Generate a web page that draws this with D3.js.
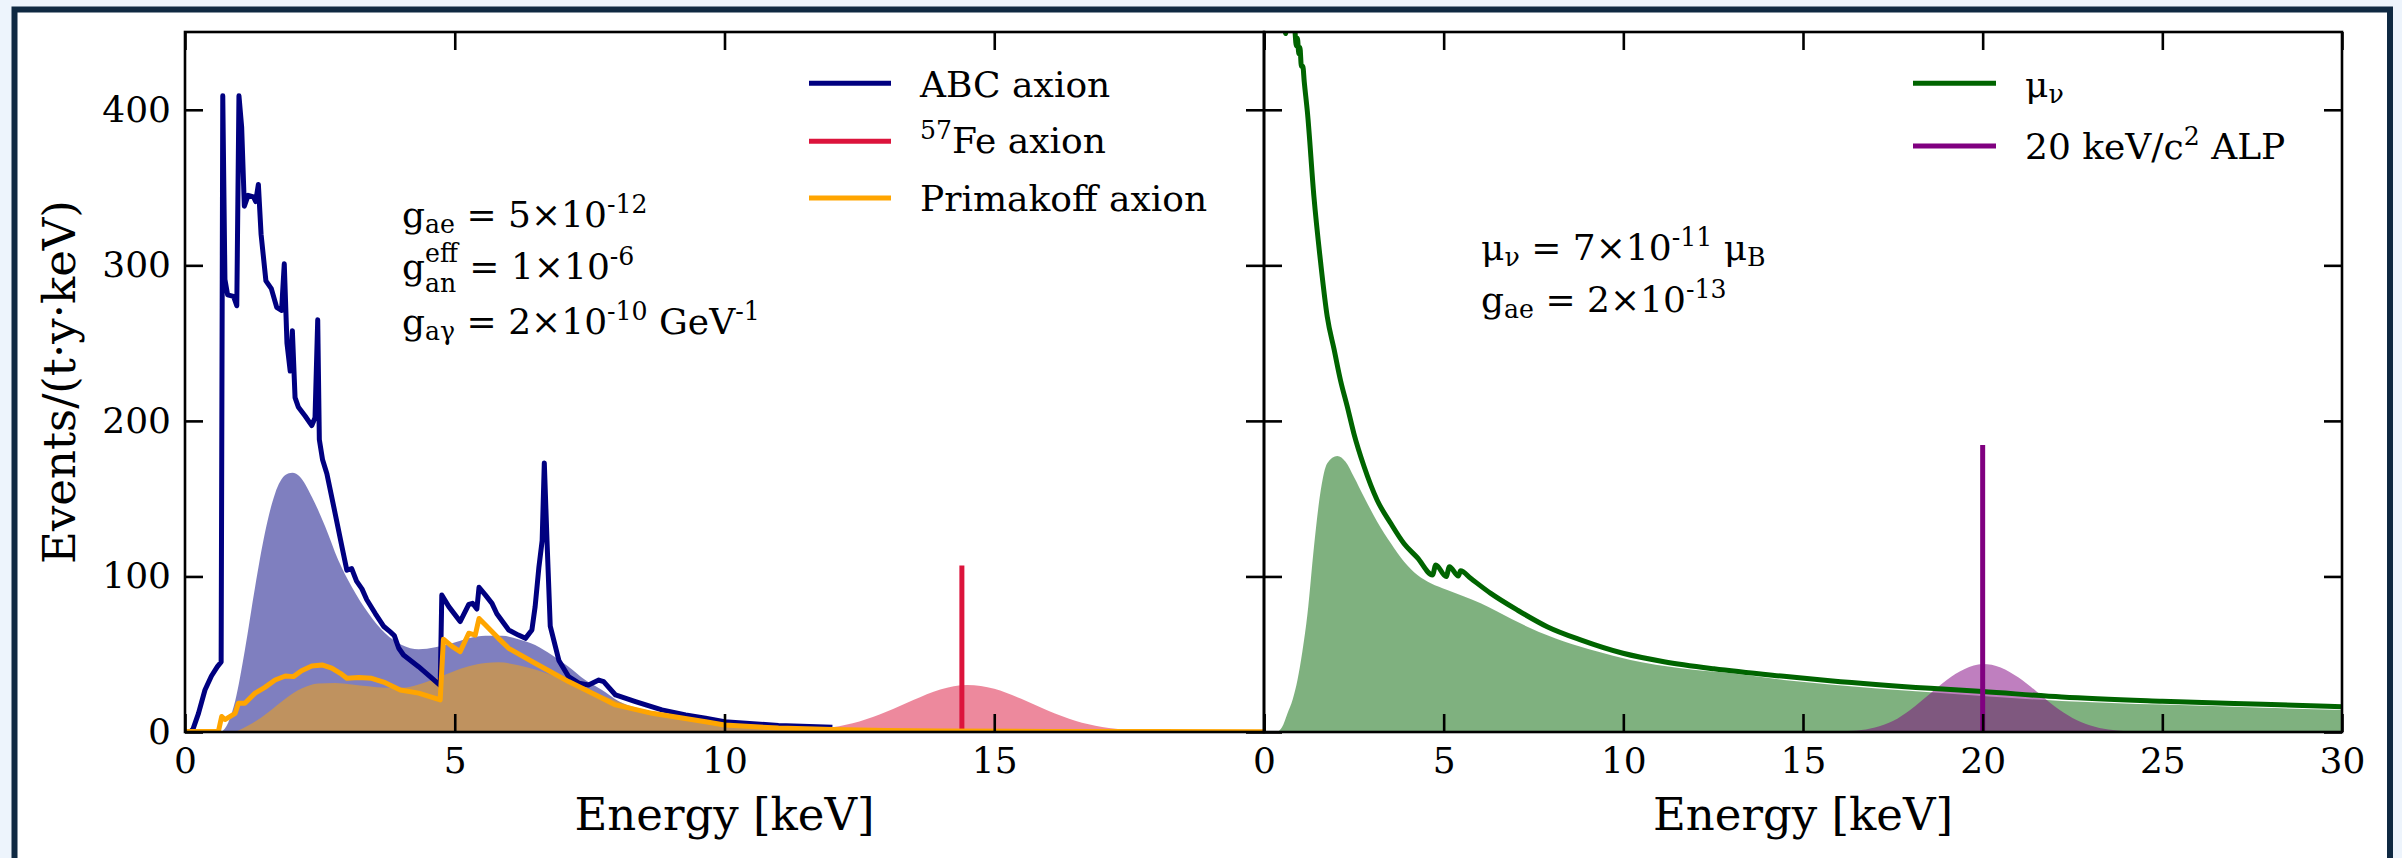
<!DOCTYPE html>
<html>
<head>
<meta charset="utf-8">
<script src="https://cdn.jsdelivr.net/npm/d3@7"></script>
<style>
  html, body { margin: 0; padding: 0; background: #edf4fc; }
  svg { display: block; }
  text { font-family: "DejaVu Serif", serif; fill: #000; white-space: pre; }
</style>
</head>
<body>
<svg id="chart" width="2402" height="858"></svg>
<script>
// ---------- Left panel: axion signals (keV, events / (t·y·keV)) ----------
const abcLineE = [0.10,0.15,0.25,0.37,0.49,0.60,0.67,0.70,0.74,0.79,0.90,0.96,1.00,1.05,1.10,1.17,1.27,1.31,1.36,1.41,1.50,1.60,1.70,1.79,1.84,1.89,1.95,1.99,2.04,2.10,2.23,2.35,2.41,2.46,2.49,2.55,2.63,2.78,2.91,3.00,3.09,3.18,3.28,3.37,3.53,3.68,3.80,3.88,3.96,4.05,4.33,4.73,4.76,4.89,5.10,5.26,5.33,5.41,5.45,5.57,5.69,5.78,6.00,6.18,6.31,6.43,6.49,6.56,6.62,6.66,6.71,6.77,6.93,7.11,7.30,7.48,7.67,7.76,7.98,8.35,8.84,9.28,9.65,10.0,11.0,12.0];
const abcLineV = [0,2,12,27,36,42,45,409,291,281,280,274,409,389,338,345,344,341,352,320,290,285,273,271,301,250,232,258,215,209,203,197,202,265,188,175,166,141,119,104,105,97,92,85,76,68,64.5,62,54,49.5,42,30,88,80.6,71,82,82.7,79,93,88,82.7,76,65.6,62.3,60.2,65.6,80.6,106,123,173,123,68,46,35.6,31.4,30.2,33.4,32.4,23.8,19.5,14.2,11,8.8,6.6,4.2,3.0];

const abcSmearE = [0.68,0.80,0.93,1.11,1.30,1.48,1.67,1.86,1.99,2.13,2.35,2.60,2.84,3.09,3.40,3.71,4.02,4.33,4.64,4.95,5.26,5.57,5.88,6.18,6.49,6.80,7.11,7.42,7.73,8.04,8.66,9.65,10.0,11.0,12.0];
const abcSmearV = [0,6,20,52.7,93.4,127.7,153.4,165.2,166.7,164.1,151.3,132,110.6,93.4,76.3,63.5,56,53.2,54.5,57.1,60.3,61.8,61.8,59.7,56,49.5,42,33.4,27,19.8,13.2,7.8,5.8,3.0,1.5];

const primLineE = [0,0.62,0.68,0.74,0.93,0.99,1.11,1.30,1.48,1.67,1.86,2.01,2.16,2.35,2.54,2.72,2.88,3.00,3.22,3.46,3.71,3.99,4.33,4.73,4.79,4.95,5.10,5.26,5.38,5.45,5.57,5.81,6.00,6.49,7.11,7.54,7.98,8.66,9.65,10.0,11.0,12.0,13.0,14.0,16.0,18.0,20.0];
const primLineV = [0.3,0.5,10,8,12,18.5,18.5,25,28.7,33.4,36,35.6,39.4,42.4,43.1,41,37.7,34.5,35.1,34.5,31.7,27,25,20.6,59.6,55,51.7,63.5,62.3,73,68.8,60.2,53.8,44.2,32.4,25,17.4,12,6.6,4.5,2.5,1.6,1.0,0.7,0.4,0.3,0.2];

const primSmearE = [0.93,1.24,1.55,1.86,2.16,2.47,2.78,3.09,3.40,3.71,4.02,4.33,4.64,4.95,5.26,5.57,5.81,6.18,6.49,6.80,7.11,7.42,7.73,8.04,8.66,9.65,10.0,11.0,12.0,13.0,14.0,16.0,18.0,20.0];
const primSmearV = [0,5.4,12.9,21.4,27.9,31.1,31.5,30.6,29.4,28.5,28.5,30.6,34.3,38.6,42.2,44.4,44.8,42.9,40.1,36.5,32.2,28,23.7,19.5,13,7.3,5.5,2.8,1.5,0.9,0.6,0.4,0.3,0.2];

const feLineE = [14.4, 14.4];
const feLineV = [0, 107];
const feSmearE = [11.0,11.5,12.0,12.5,13.0,13.5,14.0,14.5,15.0,15.5,16.0,16.5,17.0,17.5,18.0,18.5,19.0];
const feSmearV = [0.3,1.1,3.0,6.8,13,20.6,27.4,30.2,27.8,21.3,13.6,7.2,3.2,1.2,0.35,0.1,0];

// ---------- Right panel: neutrino magnetic moment and 20 keV ALP ----------
const muLineE = [0.55,0.60,0.64,0.84,0.87,0.90,0.93,0.97,1.00,1.04,1.08,1.12,1.21,1.39,1.58,1.76,1.95,2.13,2.32,2.50,2.78,3.15,3.53,3.90,4.27,4.69,4.78,5.07,5.16,5.41,5.47,5.75,6.31,7.05,7.88,8.81,9.99,11.13,12.52,14.47,15.75,18.54,20.0,22.2,25.0,27.8,30.0];
const muLineV = [470,449,456,462,448,441,446,436,440,428,428,418,398,344,301,267,246,226,209,192,171,149,134,121,112,101,107.4,99.9,106.3,100.3,103.7,98.8,89.1,78.4,67.7,59.2,50.6,45.2,40.6,35.8,33.0,28.1,26.0,22.5,19.8,17.8,16.3];

const muSmearE = [0.37,0.50,0.65,0.80,0.93,1.07,1.21,1.39,1.58,1.76,2.04,2.27,2.50,2.78,3.15,3.53,3.90,4.27,4.64,5.10,5.57,6.03,6.49,7.42,8.35,9.28,10.2,11.6,13.0,14.47,15.75,18.54,22.2,25.0,27.8,30.0];
const muSmearV = [0,3,11.8,21,33.2,52,76,119,155.5,172.7,177.4,173.7,164.1,151.3,135.2,121.3,109.5,100.9,95.6,91.3,87.1,82.8,77.4,66.7,58.1,51.7,46.3,41,37.7,33.4,30.6,25.5,20.0,17.6,15.6,14.2];

const alpLineE = [20, 20];
const alpLineV = [0, 184.5];
const alpSmearE = [15.5,16.0,16.5,17.0,17.5,18.0,18.5,19.0,19.5,20.0,20.5,21.0,21.5,22.0,22.5,23.0,23.5,24.0,24.5];
const alpSmearV = [0,0.3,0.9,2.9,7,14.5,24,33.5,40.5,43.7,41.5,35,26,16.5,9,4.2,1.6,0.5,0.1];

// ---------- Axis ticks ----------
const yTicks = [0, 100, 200, 300, 400];
const xTicksLeft = [0, 5, 10, 15, 20];
const xTicksRight = [0, 5, 10, 15, 20, 25, 30];

// ---------- Colours ----------
const C = {
  abc: "#000080", fe: "#dc143c", prim: "#ffa500",
  mu: "#006400", alp: "#800080"
};

const W = 2402, H = 858;
const svg = d3.select("#chart");

// card background and frame
svg.append("rect").attr("width", W).attr("height", H).attr("fill", "#edf4fc");
svg.append("rect")
  .attr("x", 14.5).attr("y", 9.5)
  .attr("width", 2390 - 14.5).attr("height", 900)
  .attr("fill", "#ffffff").attr("stroke", "#0f2942").attr("stroke-width", 6);

const plotTop = 32, plotBottom = 732;
const y = d3.scaleLinear().domain([0, 450]).range([plotBottom, plotTop]);
const xL = d3.scaleLinear().domain([0, 20]).range([185, 1264]);
const xR = d3.scaleLinear().domain([0, 30]).range([1264, 2342]);

const zip = (a, b) => a.map((v, i) => [v, b[i]]);
const FS = 36;
const LW = 5;

const defs = svg.append("defs");
function clipFor(id, x) {
  defs.append("clipPath").attr("id", id)
    .append("rect")
    .attr("x", x.range()[0]).attr("y", plotTop)
    .attr("width", x.range()[1] - x.range()[0]).attr("height", plotBottom - plotTop);
}
clipFor("clipL", xL);
clipFor("clipR", xR);

function drawArea(g, x, E, V, color) {
  const area = d3.area()
    .x(d => x(d[0])).y0(y(0)).y1(d => y(d[1]))
    .curve(d3.curveMonotoneX);
  g.append("path").datum(zip(E, V))
    .attr("d", area).attr("fill", color).attr("fill-opacity", 0.5);
}
function drawLine(g, x, E, V, color, curve) {
  const line = d3.line().x(d => x(d[0])).y(d => y(d[1])).curve(curve || d3.curveLinear);
  g.append("path").datum(zip(E, V))
    .attr("d", line).attr("fill", "none")
    .attr("stroke", color).attr("stroke-width", LW)
    .attr("stroke-linejoin", "round");
}

// ---------- left panel marks ----------
const gL = svg.append("g").attr("clip-path", "url(#clipL)");
drawArea(gL, xL, abcSmearE, abcSmearV, C.abc);
drawArea(gL, xL, primSmearE, primSmearV, C.prim);
drawArea(gL, xL, feSmearE, feSmearV, C.fe);
drawLine(gL, xL, abcLineE, abcLineV, C.abc);
drawLine(gL, xL, feLineE, feLineV, C.fe);
drawLine(gL, xL, primLineE, primLineV, C.prim);

// ---------- right panel marks ----------
const gR = svg.append("g").attr("clip-path", "url(#clipR)");
drawArea(gR, xR, muSmearE, muSmearV, C.mu);
drawArea(gR, xR, alpSmearE, alpSmearV, C.alp);
drawLine(gR, xR, muLineE, muLineV, C.mu, d3.curveMonotoneX);
drawLine(gR, xR, alpLineE, alpLineV, C.alp);

// ---------- axes (inward ticks on all four sides) ----------
function styleAxis(sel) {
  sel.attr("font-family", '"DejaVu Serif", serif').attr("font-size", FS);
  sel.select(".domain").remove();
  sel.selectAll(".tick line").attr("stroke", "#000").attr("stroke-width", 2.6);
  sel.selectAll(".tick text").attr("fill", "#000");
}
const TL = 18;
function panelAxes(x, xTicks, xFmt, showY) {
  const [x0, x1] = x.range();
  svg.append("g").attr("transform", `translate(0,${plotBottom})`)
    .call(d3.axisBottom(x).tickValues(xTicks).tickFormat(xFmt).tickSize(-TL).tickPadding(15))
    .call(styleAxis);
  svg.append("g").attr("transform", `translate(0,${plotTop})`)
    .call(d3.axisTop(x).tickValues(xTicks).tickFormat("").tickSize(-TL))
    .call(styleAxis);
  svg.append("g").attr("transform", `translate(${x0},0)`)
    .call(d3.axisLeft(y).tickValues(yTicks).tickFormat(showY ? d3.format("d") : "").tickSize(-TL).tickPadding(14))
    .call(styleAxis);
  svg.append("g").attr("transform", `translate(${x1},0)`)
    .call(d3.axisRight(y).tickValues(yTicks).tickFormat("").tickSize(-TL))
    .call(styleAxis);
  svg.append("rect")
    .attr("x", x0).attr("y", plotTop)
    .attr("width", x1 - x0).attr("height", plotBottom - plotTop)
    .attr("fill", "none").attr("stroke", "#000").attr("stroke-width", 2.6);
}
panelAxes(xL, xTicksLeft, d => (d === 20 ? "" : d), true);
panelAxes(xR, xTicksRight, d => d, false);

// axis titles
svg.append("text").attr("x", (xL.range()[0] + xL.range()[1]) / 2).attr("y", 830)
  .attr("text-anchor", "middle").attr("font-size", 45).text("Energy [keV]");
svg.append("text").attr("x", (xR.range()[0] + xR.range()[1]) / 2).attr("y", 830)
  .attr("text-anchor", "middle").attr("font-size", 45).text("Energy [keV]");
svg.append("text")
  .attr("transform", `translate(75,${(plotTop + plotBottom) / 2}) rotate(-90)`)
  .attr("text-anchor", "middle").attr("font-size", 45).text("Events/(t·y·keV)");

// ---------- text with sub/superscripts ----------
function richText(parent, x, yBase, parts, fs) {
  const g = parent.append("g");
  const small = fs * 0.7;
  let cx = x;
  for (const p of parts) {
    if (p.t !== undefined) {
      const t = g.append("text").attr("x", cx).attr("y", yBase)
        .attr("font-size", fs).text(p.t);
      cx += t.node().getComputedTextLength();
    } else {
      const stacked = p.sub !== undefined && p.sup !== undefined;
      let w = 0;
      if (p.sub !== undefined) {
        const t = g.append("text").attr("x", cx).attr("y", yBase + (stacked ? 12.5 : 6))
          .attr("font-size", small).text(p.sub);
        w = Math.max(w, t.node().getComputedTextLength());
      }
      if (p.sup !== undefined) {
        const t = g.append("text").attr("x", cx).attr("y", yBase - (stacked ? 17 : 14))
          .attr("font-size", small).text(p.sup);
        w = Math.max(w, t.node().getComputedTextLength());
      }
      cx += w;
    }
  }
  return g;
}

// coupling annotations
richText(svg, 402, 227, [{t: "g"}, {sub: "ae"}, {t: " = 5×10"}, {sup: "-12"}], FS);
richText(svg, 402, 279, [{t: "g"}, {sub: "an", sup: "eff"}, {t: " = 1×10"}, {sup: "-6"}], FS);
richText(svg, 402, 334, [{t: "g"}, {sub: "aγ"}, {t: " = 2×10"}, {sup: "-10"}, {t: " GeV"}, {sup: "-1"}], FS);

richText(svg, 1481, 260, [{t: "μ"}, {sub: "ν"}, {t: " = 7×10"}, {sup: "-11"}, {t: " μ"}, {sub: "B"}], FS);
richText(svg, 1481, 312, [{t: "g"}, {sub: "ae"}, {t: " = 2×10"}, {sup: "-13"}], FS);

// ---------- legends ----------
const legendLeft = [
  {color: C.abc, parts: [{t: "ABC axion"}], ly: 83.3, ty: 96.7},
  {color: C.fe, parts: [{sup: "57"}, {t: "Fe axion"}], ly: 141.3, ty: 153.3},
  {color: C.prim, parts: [{t: "Primakoff axion"}], ly: 198, ty: 210.7}
];
const legendRight = [
  {color: C.mu, parts: [{t: "μ"}, {sub: "ν"}], ly: 83.3, ty: 96.7},
  {color: C.alp, parts: [{t: "20 keV/c"}, {sup: "2"}, {t: " ALP"}], ly: 146, ty: 158.7}
];
function legend(items, x1, x2, tx) {
  const g = svg.append("g");
  items.forEach(it => {
    g.append("line").attr("x1", x1).attr("x2", x2).attr("y1", it.ly).attr("y2", it.ly)
      .attr("stroke", it.color).attr("stroke-width", LW);
    richText(g, tx, it.ty, it.parts, FS);
  });
}
legend(legendLeft, 809, 891, 920);
legend(legendRight, 1913, 1996, 2025);
</script>
</body>
</html>
